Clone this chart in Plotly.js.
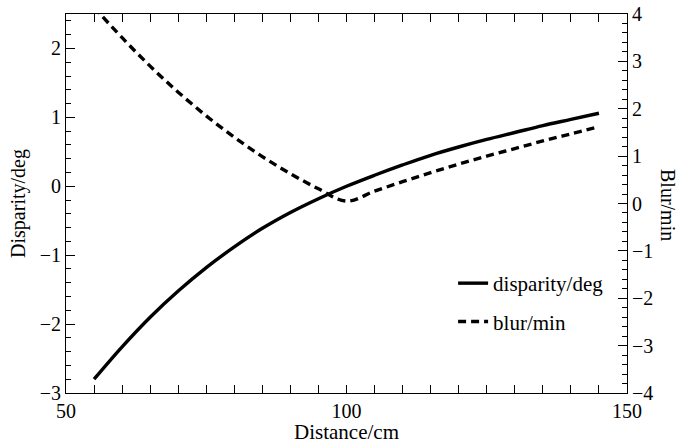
<!DOCTYPE html>
<html>
<head>
<meta charset="utf-8">
<script src="https://cdn.plot.ly/plotly-3.0.1.min.js"></script>
<style>html,body{margin:0;padding:0;background:#fff;}#chart{width:684px;height:444px;}</style>
</head>
<body>
<div id="chart"></div>
<script>
// Distance (cm)
const distance = [55, 60, 65, 70, 75, 80, 85, 90, 95, 100, 105, 110, 115, 120, 125, 130, 135, 140, 145];
// disparity (deg), left axis
const disparity = [-2.80, -2.33, -1.90, -1.52, -1.18, -0.88, -0.61, -0.38, -0.18, 0.00, 0.16, 0.31, 0.45, 0.57, 0.68, 0.78, 0.88, 0.97, 1.06];
// blur (min), right axis
const blur = [4.14, 3.50, 2.90, 2.35, 1.85, 1.40, 0.99, 0.63, 0.31, 0.05, 0.26, 0.46, 0.65, 0.83, 1.00, 1.16, 1.32, 1.47, 1.62];

const xTickVals = [50, 100, 150];
const yTickVals = [-3, -2, -1, 0, 1, 2];
const y2TickVals = [-4, -3, -2, -1, 0, 1, 2, 3, 4];

const labels = {x: 'Distance/cm', y: 'Disparity/deg', y2: 'Blur/min', s1: 'disparity/deg', s2: 'blur/min'};

const FONT = "'Liberation Serif', 'DejaVu Serif', serif";

const traces = [
  {x: distance, y: disparity, name: labels.s1, type: 'scatter', mode: 'lines', legendgroup: 'a',
   line: {color: '#000', width: 3.4, shape: 'spline'}, yaxis: 'y'},
  {x: distance, y: blur, name: labels.s2, type: 'scatter', mode: 'lines', legendgroup: 'b',
   line: {color: '#000', width: 3.4, dash: '8px,5px', shape: 'spline'}, yaxis: 'y2'}
];

const layout = {
  width: 684, height: 444,
  margin: {l: 66, r: 57, t: 14, b: 51},
  paper_bgcolor: '#fff', plot_bgcolor: '#fff',
  font: {family: FONT, size: 20, color: '#000'},
  showlegend: true,
  legend: {x: 0.69, y: 0.343, xanchor: 'left', yanchor: 'top', bgcolor: 'rgba(0,0,0,0)',
           font: {family: FONT, size: 21, color: '#000'}, tracegroupgap: 8, traceorder: 'grouped'},
  xaxis: {range: [50, 150], tickmode: 'array', tickvals: xTickVals, ticks: 'inside', ticklen: 8,
          tickcolor: '#000', tickwidth: 1, showline: true, linecolor: '#000', linewidth: 1,
          mirror: 'allticks', showgrid: false, zeroline: false,
          minor: {dtick: 5, ticks: 'inside', ticklen: 4, tickcolor: '#000', showgrid: false},
          tickfont: {family: FONT, size: 20},
          title: {text: labels.x, font: {family: FONT, size: 21}, standoff: 2}},
  yaxis: {range: [-3, 2.5], tickmode: 'array', tickvals: yTickVals, ticks: 'inside', ticklen: 9,
          tickcolor: '#000', tickwidth: 1, showline: true, linecolor: '#000', linewidth: 1,
          showgrid: false, zeroline: false,
          minor: {dtick: 0.2, ticks: 'inside', ticklen: 5, tickcolor: '#000', showgrid: false},
          tickfont: {family: FONT, size: 20},
          title: {text: labels.y, font: {family: FONT, size: 20}, standoff: 8}},
  yaxis2: {range: [-4, 4], overlaying: 'y', side: 'right', tickmode: 'array', tickvals: y2TickVals,
           ticks: 'inside', ticklen: 9, tickcolor: '#000', tickwidth: 1, showline: true,
           linecolor: '#000', linewidth: 1, showgrid: false, zeroline: false,
           minor: {dtick: 0.2, ticks: 'inside', ticklen: 5, tickcolor: '#000', showgrid: false},
           tickfont: {family: FONT, size: 20}},
  annotations: [
    {text: labels.y2, xref: 'paper', yref: 'paper', x: 1.072, y: 0.495, xanchor: 'center', yanchor: 'middle',
     textangle: 90, showarrow: false, font: {family: FONT, size: 20, color: '#000'}}
  ]
};

Plotly.newPlot('chart', traces, layout, {displayModeBar: false, staticPlot: true});
</script>
</body>
</html>
